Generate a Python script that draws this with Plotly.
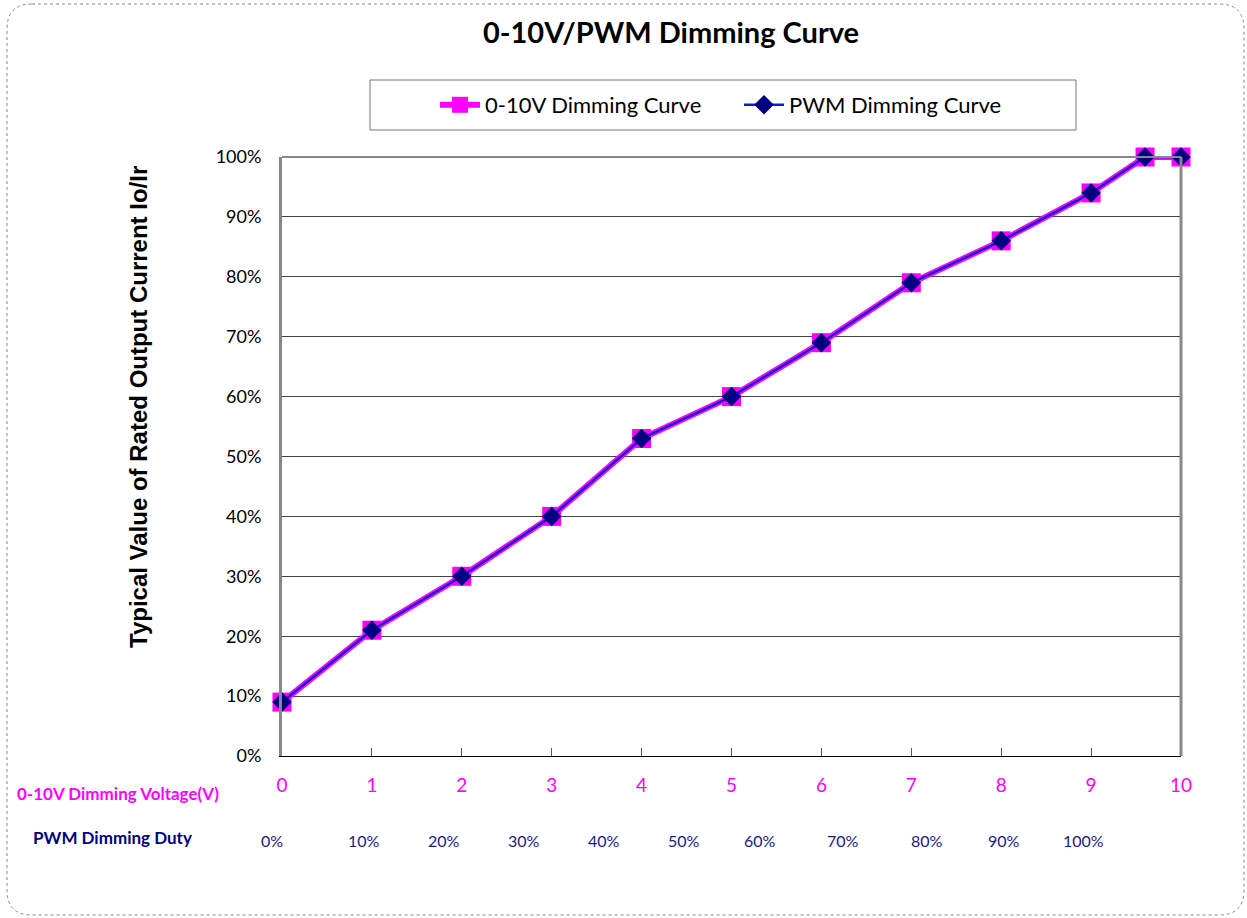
import plotly.graph_objects as go

# Data
voltage_x = [0, 1, 2, 3, 4, 5, 6, 7, 8, 9, 9.6, 10]
v_curve = [0.09, 0.21, 0.30, 0.40, 0.53, 0.60, 0.69, 0.79, 0.86, 0.94, 1.00, 1.00]
pwm_curve = [0.09, 0.21, 0.30, 0.40, 0.53, 0.60, 0.69, 0.79, 0.86, 0.94, 1.00, 1.00]

x_ticks = [0, 1, 2, 3, 4, 5, 6, 7, 8, 9, 10]
duty_labels = ["0%", "10%", "20%", "30%", "40%", "50%", "60%", "70%", "80%", "90%", "100%"]
# where the duty labels sit along the voltage axis (they do not line up with the ticks)
duty_pos = [-0.11, 0.91, 1.80, 2.69, 3.58, 4.47, 5.32, 6.24, 7.17, 8.03, 8.92]
X_MAX = 10

W, H = 1247, 918
L, R, T, B = 282, 66, 157, 162
PW, PH = W - L - R, H - T - B

def px_x(px):
    return (px - L) / PW

def px_y(py):
    return (H - B - py) / PH

fig = go.Figure()

fig.add_trace(go.Scatter(
    x=voltage_x, y=v_curve, name="0-10V Dimming Curve",
    mode="lines+markers", cliponaxis=False,
    line=dict(color="#FF00FF", width=6),
    marker=dict(symbol="square", size=19, color="#FF00FF"),
))
fig.add_trace(go.Scatter(
    x=voltage_x, y=pwm_curve, name="PWM Dimming Curve",
    mode="lines+markers", cliponaxis=False,
    line=dict(color="#1A1ACC", width=2.5),
    marker=dict(symbol="diamond", size=15, color="#000080"),
))

# row labels + duty labels under the axis
fig.add_annotation(text="<b>0-10V Dimming Voltage(V)</b>", xref="paper", yref="paper",
                   x=px_x(15), y=px_y(793), xanchor="left", yanchor="middle", showarrow=False,
                   font=dict(family="Lato, Open Sans, sans-serif", size=17, color="#FF00FF"))
fig.add_annotation(text="<b>PWM Dimming Duty</b>", xref="paper", yref="paper",
                   x=px_x(31), y=px_y(838), xanchor="left", yanchor="middle", showarrow=False,
                   font=dict(family="Lato, Open Sans, sans-serif", size=17, color="#000080"))
for pos, lab in zip(duty_pos, duty_labels):
    fig.add_annotation(text=lab, xref="paper", yref="paper", x=pos / X_MAX, y=px_y(841),
                       xanchor="center", yanchor="middle", showarrow=False,
                       font=dict(family="Lato, Open Sans, sans-serif", size=16, color="#1A1A80"))

# y axis title
fig.add_annotation(text="<b>Typical Value of Rated Output Current Io/Ir</b>", xref="paper", yref="paper",
                   x=px_x(138), y=px_y(407), textangle=-90, showarrow=False,
                   xanchor="center", yanchor="middle",
                   font=dict(family="Liberation Sans, Arial, sans-serif", size=24, color="black"))

# rounded dotted outer frame
x0, x1 = px_x(7), px_x(1244)
y0, y1 = px_y(915), px_y(4)
rx, ry = 25 / PW, 25 / PH
path = (f"M {x0 + rx},{y1} L {x1 - rx},{y1} Q {x1},{y1} {x1},{y1 - ry} "
        f"L {x1},{y0 + ry} Q {x1},{y0} {x1 - rx},{y0} L {x0 + rx},{y0} "
        f"Q {x0},{y0} {x0},{y0 + ry} L {x0},{y1 - ry} Q {x0},{y1} {x0 + rx},{y1} Z")
fig.add_shape(type="path", path=path, xref="paper", yref="paper",
              line=dict(color="#888888", width=1, dash="dot"))

# legend box
fig.add_shape(type="rect", xref="paper", yref="paper",
              x0=px_x(370), x1=px_x(1076), y0=px_y(130), y1=px_y(80),
              line=dict(color="#777777", width=1), fillcolor="white", layer="below")

# gray frame on top/right of plot area
fig.add_shape(type="line", xref="paper", yref="paper", x0=0, x1=1, y0=1, y1=1,
              line=dict(color="#888888", width=2))
fig.add_shape(type="line", xref="paper", yref="paper", x0=1, x1=1, y0=0, y1=1,
              line=dict(color="#888888", width=3))

fig.update_layout(
    width=W, height=H,
    margin=dict(l=L, r=R, t=T, b=B),
    paper_bgcolor="white", plot_bgcolor="white",
    title=dict(text="<b>0-10V/PWM Dimming Curve</b>", x=671 / W, xanchor="center",
               y=1 - 33 / H, yanchor="middle",
               font=dict(family="Lato, Open Sans, sans-serif", size=29, color="black")),
    font=dict(family="Lato, Open Sans, sans-serif"),
    showlegend=True,
    legend=dict(orientation="h", x=px_x(435), y=px_y(105), xanchor="left", yanchor="middle",
                borderwidth=0, bgcolor="rgba(0,0,0,0)",
                font=dict(size=22, color="black"), itemwidth=40, entrywidth=249,
                entrywidthmode="pixels", tracegroupgap=0),
    xaxis=dict(range=[0, X_MAX], tickvals=x_ticks, ticktext=[str(v) for v in x_ticks],
               showgrid=False, zeroline=False, showline=True, linecolor="black", linewidth=1,
               ticks="inside", ticklen=8, tickcolor="#555555",
               tickfont=dict(size=19, color="#FF00FF"), ticklabelstandoff=12),
    yaxis=dict(range=[0, 1], dtick=0.1, tickformat=".0%",
               showgrid=True, gridcolor="#444444", gridwidth=1, zeroline=False,
               showline=True, linecolor="#888888", linewidth=3,
               tickfont=dict(size=18, color="black"), ticklabelstandoff=14),
)

fig.write_html("out.html", config={"displayModeBar": False},
               post_script="document.body.style.margin='0';")
